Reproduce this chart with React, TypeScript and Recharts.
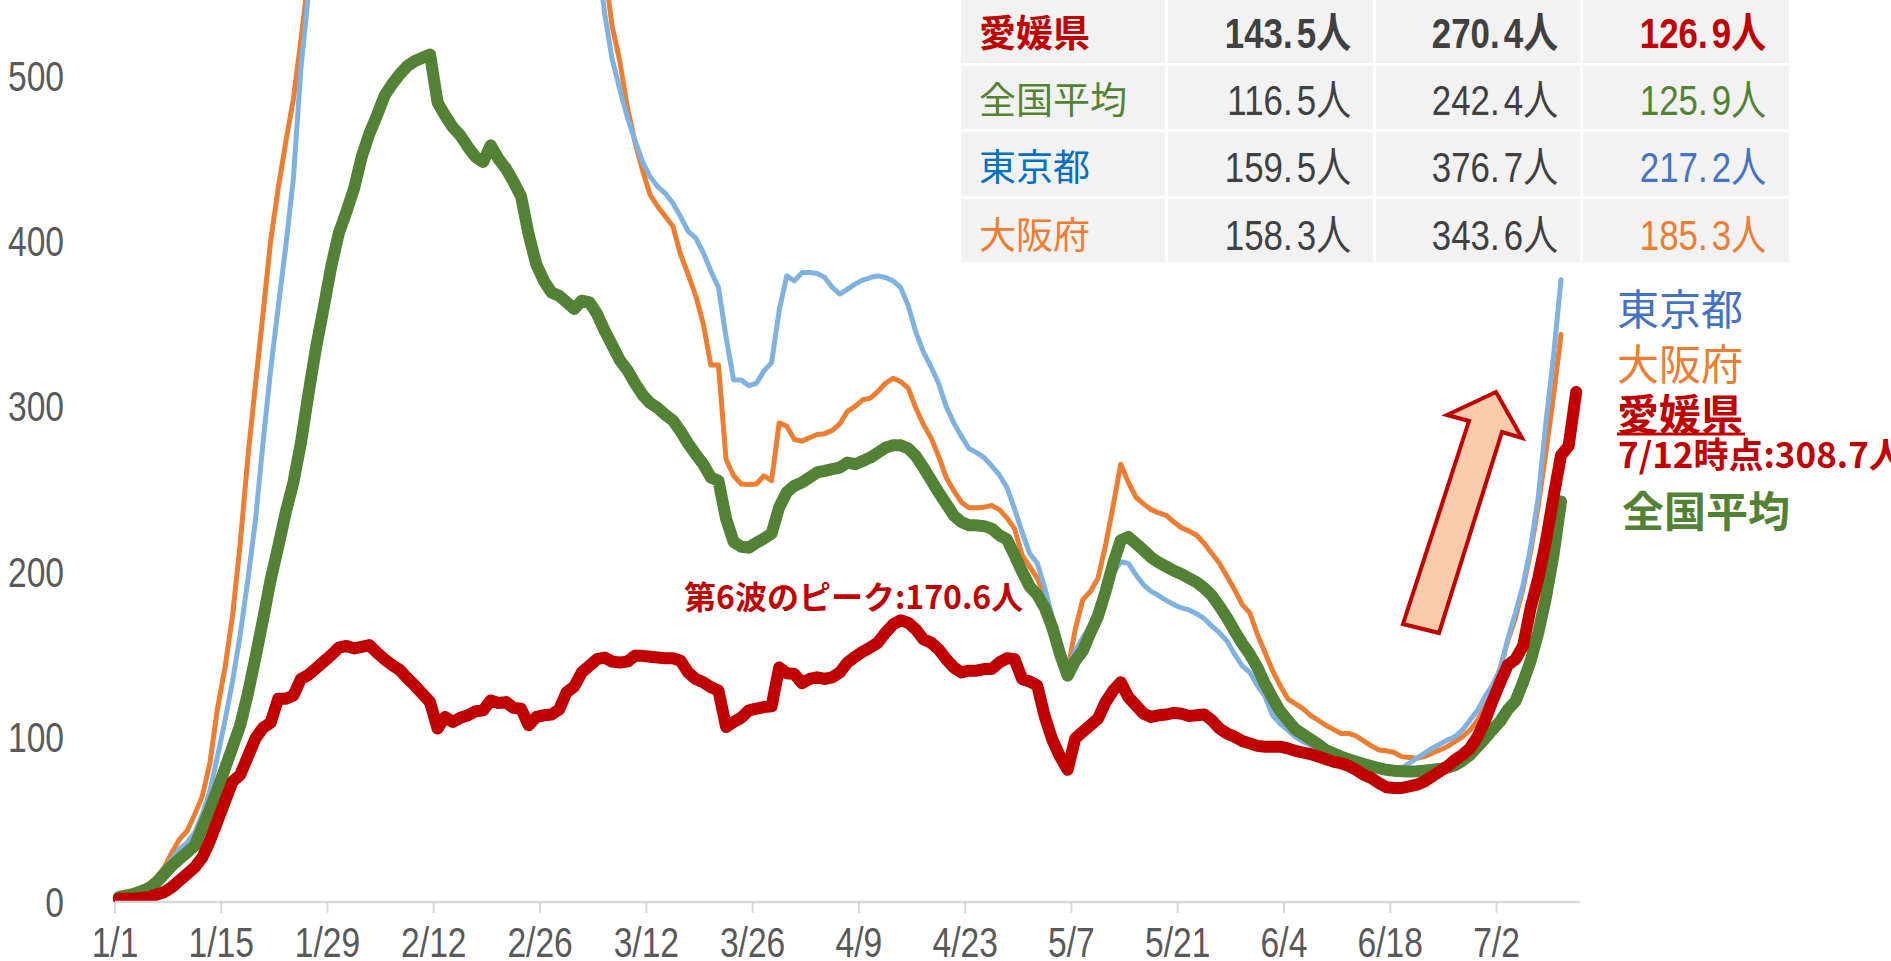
import React from 'react';
import { LineChart, Line, XAxis, YAxis } from 'recharts';

// ---- axis ticks ----
const tickDays = [0, 14, 28, 42, 56, 70, 84, 98, 112, 126, 140, 154, 168, 182];
const tickLabels = ['1/1', '1/15', '1/29', '2/12', '2/26', '3/12', '3/26', '4/9', '4/23', '5/7', '5/21', '6/4', '6/18', '7/2'];
const yTicks = [0, 100, 200, 300, 400, 500];

// ---- series (1/1 .. 7/12 for Ehime, 1/1 .. 7/10 for the others) ----
const ehime = [
  2, 2, 2, 2.5, 3, 4.5, 6, 9, 13, 17, 21, 27, 37, 49, 61, 73, 77, 88, 99, 105.5,
  108.5, 123, 123, 125, 135, 137.5, 141.5, 145.5, 149.5, 154, 155, 153.5, 154.5, 155.5, 151, 147, 143.5, 140.5, 135.5, 131,
  126, 121, 105, 112, 109, 111.5, 113, 115.5, 116, 122, 120.5, 121, 117.5, 117, 107, 112, 113, 113.5, 116.5, 127,
  130.5, 139, 143, 147, 148, 145.5, 145, 145.5, 149, 149, 148.5, 148, 147.5, 147.5, 146, 139, 135, 133, 130, 128,
  106, 109, 111.5, 116, 117, 118, 118.5, 142, 138.5, 138, 132.5, 135, 136, 135, 136, 139, 145, 148.5, 151.5, 154,
  157, 163, 168, 170.6, 169, 165, 159, 157, 153, 147, 142, 139, 140, 140, 141, 141, 145, 147.5, 147, 135,
  133.5, 131, 112, 98, 88, 80, 99, 103, 107, 111, 121, 128, 133, 124, 119, 114, 112, 113, 113.5, 114.5,
  114, 112.5, 113, 113.5, 110, 105, 102, 100, 97.5, 96, 94.5, 94, 94, 94, 93, 91.5, 90.5, 89.5, 88, 86.5,
  85, 84, 82.5, 80, 77, 75, 72, 69.5, 69, 69, 70, 71, 73, 76, 79, 82, 86, 89, 93, 100,
  110, 122, 133, 143.5, 147, 155, 178, 196, 218, 245, 270.4, 276, 308.7,
];

const national = [
  3, 4, 5, 6.5, 8.5, 12, 17, 22, 26, 30, 34, 45, 56, 68, 81, 94, 107, 126, 148, 171,
  195, 215, 236, 254, 278, 308, 336, 360, 385, 405, 418, 432, 451, 465, 476, 488, 495, 501, 506, 509,
  511, 513, 484, 476, 469, 464, 457, 451, 448, 458, 450, 444, 436, 427, 404, 386, 376, 369, 367, 363,
  359, 364, 363, 356, 346, 337, 328, 322, 314, 307, 302, 299, 295, 291.5, 285, 277.5, 271, 265, 257, 255,
  232, 218, 215, 214.5, 217.5, 220, 223, 239, 248, 252, 254, 257, 260, 261, 262, 263, 266, 265, 267, 269,
  272, 275, 276.5, 276.5, 274.5, 270, 263, 255.5, 248, 241, 234, 230, 228, 228, 227.5, 226, 222, 219.5, 210, 200,
  191, 186, 178, 166, 150, 137, 146, 152, 163, 173, 188, 205, 219, 221, 217, 213, 208.5, 205.5, 203, 200.5,
  198.5, 196, 193.5, 190, 185.5, 179, 172, 164, 156.5, 150, 142, 132, 123.5, 115.5, 110, 104.5, 101.5, 98.5, 95.5, 92,
  90, 88, 86.5, 85, 83.5, 82.3, 81, 80, 79.5, 79.2, 79, 79.1, 79.5, 80, 80.6, 81.3, 82.8, 85.5, 89, 94,
  99, 104.5, 109.5, 116.5, 121.5, 133, 146, 163, 184, 210, 242.4,
];

const tokyo = [
  3, 4, 5, 6.5, 9.5, 14, 19.5, 26, 32, 36, 42, 53, 67, 88, 110, 134, 162, 195, 231, 278,
  322, 360, 397, 438, 505, 550, 600, 650, 700, 740, 775, 805, 825, 840, 850, 855, 855, 850, 840, 830,
  815, 800, 790, 775, 760, 745, 730, 715, 700, 690, 680, 670, 660, 650, 640, 630, 622, 615, 608, 602,
  596, 591, 586, 576, 538, 510, 492, 475, 461, 448, 439, 433, 429, 423, 415, 406, 402, 393, 382, 372,
  342, 316, 316, 312.5, 314, 321.5, 326.5, 358, 379, 376, 381, 381, 380.5, 378, 372, 368, 371, 374, 376.5, 378,
  379, 378, 376, 372, 361, 345, 333, 324, 314, 300, 290, 282, 274.5, 272, 269, 264, 258.5, 251, 238, 224,
  211, 205, 190, 172, 156, 142, 152, 160, 167, 180, 190, 199, 206, 205, 198, 192, 188, 185.5, 182.5, 180,
  178, 176.8, 174.5, 171.5, 167, 163, 158, 150, 143, 139, 131, 124.5, 113, 108, 104, 100, 97, 95, 92, 89,
  87, 85.5, 84, 83, 81.5, 80.5, 79.5, 79, 79, 81, 84, 87, 90, 93, 95.5, 98, 100, 104, 110, 116,
  124.5, 131.5, 141, 159.5, 175, 192, 215, 245, 290, 330, 376.7,
];

const osaka = [
  3.5, 5, 6.5, 8.5, 11, 15, 21, 30, 38, 43, 53, 64, 84, 117, 142, 174, 217, 269, 313, 356,
  400, 432, 460, 486, 522, 560, 610, 660, 705, 745, 780, 810, 835, 855, 870, 880, 885, 888, 885, 880,
  870, 860, 850, 835, 820, 805, 790, 775, 760, 745, 730, 715, 700, 690, 678, 668, 658, 650, 642, 634,
  626, 618, 610, 600, 565, 530, 509, 481, 460, 443, 428, 421, 415, 409, 392, 380, 367, 350, 325, 325,
  268, 258, 253, 252.7, 253, 258, 255, 290, 288, 280, 279, 281, 283, 283.5, 285.5, 289.5, 297, 300, 304, 305,
  309, 314, 317, 315, 311, 299, 289, 281, 270, 257, 249, 242, 238.7, 238.7, 239, 240, 237.5, 232.5, 226, 210,
  203, 196, 185, 170, 155, 140, 165, 183, 188, 196, 216, 240, 265, 254, 245, 241, 237.5, 235.5, 234, 230,
  226.5, 224.5, 222, 217, 211, 205, 197, 189, 180, 175, 162, 151, 140, 131, 123, 120, 117, 113, 110, 107,
  104.5, 102, 102, 100.5, 97.5, 94.5, 92, 91.5, 90.5, 88, 87.5, 87, 88, 90, 92, 94, 97, 100, 104, 110,
  118, 128, 142, 158.3, 172, 190, 212, 240, 272, 306, 343.6,
];

// ---- table ----
const tableNames = ['愛媛県', '全国平均', '東京都', '大阪府'];
const tableNameColors = ['#c00000', '#548235', '#0070c0', '#ed7d31'];
const tableWeekAgo = [143.5, 116.5, 159.5, 158.3];
const tableLatest = [270.4, 242.4, 376.7, 343.6];
const tableDiff = [126.9, 125.9, 217.2, 185.3];
const tableDiffColors = ['#c00000', '#548235', '#4472c4', '#ed7d31'];

const rows = ehime.map((v, i) => ({
  x: i + 0.5,
  ehime: v,
  national: i < national.length ? national[i] : null,
  tokyo: i < tokyo.length ? tokyo[i] : null,
  osaka: i < osaka.length ? osaka[i] : null,
}));

const NUM_FONT = "'Liberation Sans', Arial, 'Noto Sans CJK JP', sans-serif";
const JP_FONT = "'Noto Sans CJK JP', 'Noto Sans CJK SC', sans-serif";

const YTick = (props: any) => {
  const { x, y, payload } = props;
  return (
    <g transform={`translate(${x},${y})`}>
      <text textAnchor="end" transform="scale(0.8,1)" y={15} fontSize={42} fill="#595959" fontFamily={NUM_FONT}>
        {payload.value}
      </text>
    </g>
  );
};

const XTick = (props: any) => {
  const { x, y, payload } = props;
  const idx = tickDays.indexOf(payload.value);
  return (
    <g transform={`translate(${x},${y})`}>
      <text textAnchor="middle" transform="scale(0.8,1)" y={44} fontSize={42} fill="#595959" fontFamily={NUM_FONT}>
        {idx >= 0 ? tickLabels[idx] : ''}
      </text>
    </g>
  );
};

const colX = [[961, 1165], [1168, 1373], [1376, 1580], [1583, 1789]];
const rowY = [[0, 63], [66, 129], [132, 196], [199, 262]];
const rowCenter = [33, 99.5, 167, 234.5];

const NumText = ({ right, base, value, color, bold }: any) => {
  const s = value.toFixed(1);
  const [a, b] = s.split('.');
  return (
    <g transform={`translate(${right},${base}) scale(0.83,1)`}>
      <text textAnchor="end" fontSize={42} fill={color} fontWeight={bold ? 700 : 400} fontFamily={NUM_FONT}>
        {a}.<tspan dx={5}>{b}人</tspan>
      </text>
    </g>
  );
};

export default function App() {
  return (
    <div style={{ position: 'absolute', left: 0, top: 0, width: 1891, height: 961, background: '#ffffff', overflow: 'hidden' }}>
      <LineChart width={1891} height={961} data={rows} margin={{ top: 0, right: 311, bottom: 0, left: 15 }}>
        <XAxis
          type="number"
          dataKey="x"
          domain={[0, 193]}
          ticks={tickDays}
          interval={0}
          height={59}
          tickSize={11}
          tickMargin={0}
          axisLine={{ stroke: '#d9d9d9', strokeWidth: 2.5 }}
          tickLine={{ stroke: '#d9d9d9', strokeWidth: 2 }}
          tick={<XTick />}
        />
        <YAxis
          type="number"
          domain={[0, 546]}
          allowDataOverflow
          ticks={yTicks}
          interval={0}
          width={100}
          axisLine={false}
          tickLine={false}
          tickSize={0}
          tickMargin={51}
          tick={<YTick />}
        />
        <Line dataKey="osaka" type="linear" stroke="#ed7d31" strokeWidth={5} dot={false} activeDot={false}
          isAnimationActive={false} strokeLinejoin="round" strokeLinecap="round" />
        <Line dataKey="tokyo" type="linear" stroke="#7fb1e1" strokeWidth={5} dot={false} activeDot={false}
          isAnimationActive={false} strokeLinejoin="round" strokeLinecap="round" />
        <Line dataKey="national" type="linear" stroke="#538135" strokeWidth={12} dot={false} activeDot={false}
          isAnimationActive={false} strokeLinejoin="round" strokeLinecap="round" />
        <Line dataKey="ehime" type="linear" stroke="#c00000" strokeWidth={12} dot={false} activeDot={false}
          isAnimationActive={false} strokeLinejoin="round" strokeLinecap="round" />
      </LineChart>

      <svg width={1891} height={961} style={{ position: 'absolute', left: 0, top: 0, pointerEvents: 'none' }}>
        {/* table */}
        {rowY.map((r, ri) =>
          colX.map((c, ci) => (
            <rect key={`c${ri}-${ci}`} x={c[0]} y={r[0]} width={c[1] - c[0]} height={r[1] - r[0]} fill="#f2f2f2" />
          ))
        )}
        {tableNames.map((n, i) => (
          <text key={`n${i}`} x={979} y={rowCenter[i] + 14} fontSize={37} fill={tableNameColors[i]}
            fontWeight={i === 0 ? 700 : 400} fontFamily={JP_FONT}>{n}</text>
        ))}
        {tableWeekAgo.map((v, i) => (
          <NumText key={`w${i}`} right={1351} base={rowCenter[i] + 15} value={v} color="#404040" bold={i === 0} />
        ))}
        {tableLatest.map((v, i) => (
          <NumText key={`l${i}`} right={1558} base={rowCenter[i] + 15} value={v} color="#404040" bold={i === 0} />
        ))}
        {tableDiff.map((v, i) => (
          <NumText key={`d${i}`} right={1766} base={rowCenter[i] + 15} value={v} color={tableDiffColors[i]} bold={i === 0} />
        ))}

        {/* arrow */}
        <polygon points="1403,624 1469,421 1447,415 1496,392 1522,438 1502,432 1439,633"
          fill="#f8cbad" stroke="#c00000" strokeWidth={4} strokeLinejoin="miter" />

        {/* series labels */}
        <text x={1617} y={325} fontSize={42} fill="#4472c4" fontFamily={JP_FONT}>東京都</text>
        <text x={1617} y={380} fontSize={42} fill="#ed7d31" fontFamily={JP_FONT}>大阪府</text>
        <text x={1617} y={430} fontSize={42} fill="#c00000" fontWeight={700} fontFamily={JP_FONT}>愛媛県</text>
        <line x1={1617} x2={1745} y1={434} y2={434} stroke="#c00000" strokeWidth={3} />
        <text x={1618} y={468} fontSize={35} fill="#c00000" fontWeight={700} fontFamily={JP_FONT}>7/12時点:308.7人</text>
        <text x={1622} y={527} fontSize={42} fill="#548235" fontWeight={700} fontFamily={JP_FONT}>全国平均</text>

        {/* peak annotation */}
        <text x={684} y={609} fontSize={32} fill="#c00000" fontWeight={700} fontFamily={JP_FONT}>第6波のピーク:170.6人</text>
      </svg>
    </div>
  );
}
